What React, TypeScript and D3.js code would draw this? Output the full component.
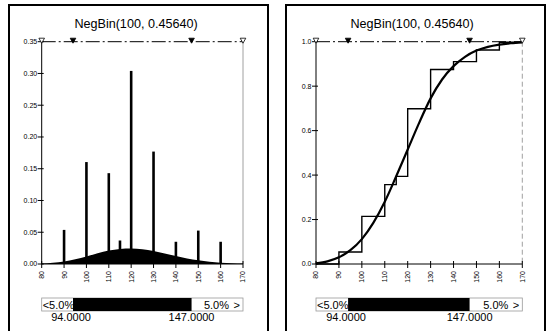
import React from "react";
import * as d3 from "d3";

const TITLE = "NegBin(100, 0.45640)";
const xTicks = [80, 90, 100, 110, 120, 130, 140, 150, 160, 170];
const pdfYTicks = [0, 0.05, 0.1, 0.15, 0.2, 0.25, 0.3, 0.35];
const cdfYTicks = [0, 0.2, 0.4, 0.6, 0.8, 1.0];

// Discrete input spikes (value, probability)
const spikeX = [90, 100, 110, 115, 120, 130, 140, 150, 160];
const spikeP = [0.0537, 0.1605, 0.143, 0.037, 0.304, 0.177, 0.035, 0.0526, 0.035];

// Fitted NegBin pmf
const pmfX = [80, 85, 90, 95, 100, 105, 110, 115, 120, 125, 130, 135, 140, 145, 150, 155, 160, 165, 170];
const pmfY = [0.0008, 0.0018, 0.004, 0.0075, 0.012, 0.017, 0.0212, 0.0238, 0.0245, 0.0232, 0.0203, 0.0165, 0.0125, 0.0088, 0.0058, 0.0036, 0.0021, 0.0012, 0.0006];

// Fitted NegBin cdf
const cdfX = [80, 85, 90, 95, 100, 105, 110, 115, 120, 125, 130, 135, 140, 145, 150, 155, 160, 165, 170];
const cdfY = [0.003, 0.012, 0.03, 0.062, 0.112, 0.185, 0.28, 0.395, 0.515, 0.635, 0.745, 0.83, 0.89, 0.932, 0.96, 0.977, 0.987, 0.993, 0.997];

const leftPct = "5.0%";
const rightPct = "5.0%";
const lowVal = 94;
const highVal = 147;
const lowLabel = "94.0000";
const highLabel = "147.0000";

const FONT = "'Liberation Sans', Arial, sans-serif";
const TOP = 41.7;
const BOTTOM = 264;

type PanelProps = { kind: "pdf" | "cdf"; fx0: number; fx1: number; px0: number; px1: number; titleX: number };

function Panel({ kind, fx0, fx1, px0, px1, titleX }: PanelProps) {
  const x = d3.scaleLinear().domain([80, 170]).range([px0, px1]);
  const y = d3.scaleLinear().domain(kind === "pdf" ? [0, 0.35] : [0, 1]).range([BOTTOM, TOP]);
  const yTicks = kind === "pdf" ? pdfYTicks : cdfYTicks;
  const yFmt = kind === "pdf" ? d3.format(".2f") : d3.format(".1f");

  const tri = (cx: number, filled: boolean, key: string) => (
    <path key={key} d={`M${cx - 2.8},${TOP - 3.5}L${cx + 2.8},${TOP - 3.5}L${cx},${TOP + 1.5}Z`}
      fill={filled ? "#000" : "#fff"} stroke="#000" strokeWidth={0.8} />
  );

  let marks: React.ReactNode = null;
  if (kind === "pdf") {
    const area = d3.area<number>().x((_, i) => x(pmfX[i])).y0(BOTTOM).y1((d) => y(d)).curve(d3.curveMonotoneX);
    marks = (
      <g>
        <path d={area(pmfY) || ""} fill="#000" />
        {spikeX.map((v, i) => (
          <line key={i} x1={x(v)} x2={x(v)} y1={BOTTOM} y2={y(spikeP[i])} stroke="#000" strokeWidth={2.6} />
        ))}
      </g>
    );
  } else {
    const cum: [number, number][] = [[80, 0]];
    let s = 0;
    spikeX.forEach((v, i) => { s += spikeP[i]; cum.push([v, s]); });
    cum.push([170, s]);
    const step = d3.line<[number, number]>().x((d) => x(d[0])).y((d) => y(d[1])).curve(d3.curveStepAfter);
    const smooth = d3.line<number>().x((_, i) => x(cdfX[i])).y((d) => y(d)).curve(d3.curveMonotoneX);
    marks = (
      <g>
        <path d={step(cum) || ""} fill="none" stroke="#000" strokeWidth={1.4} />
        <path d={smooth(cdfY) || ""} fill="none" stroke="#000" strokeWidth={2.2} />
      </g>
    );
  }

  const boxY = 298;
  const boxH = 13;
  return (
    <g fontFamily={FONT}>
      {/* frame */}
      <path d={`M${fx0},340V5H${fx1}V340`} fill="none" stroke="#000" strokeWidth={2} />
      <text x={titleX} y={27.5} fontSize={12.6} textAnchor="middle">{TITLE}</text>
      {/* top dash-dot line and right guide */}
      <line x1={px0} x2={px1} y1={TOP} y2={TOP} stroke="#000" strokeWidth={1} strokeDasharray="14,3,2,3" />
      <line x1={px1} x2={px1} y1={TOP} y2={BOTTOM} stroke="#888" strokeWidth={0.8} strokeDasharray={kind === "cdf" ? "5,3" : "none"} />
      {marks}
      {/* y axis */}
      <line x1={px0} x2={px0} y1={TOP} y2={BOTTOM} stroke="#000" strokeWidth={1} />
      {yTicks.map((t) => (
        <g key={t}>
          <line x1={px0 - 4} x2={px0 + 2} y1={y(t)} y2={y(t)} stroke="#000" strokeWidth={1} />
          <text x={px0 - 4.5} y={y(t)} dy="0.35em" fontSize={7} textAnchor="end">{yFmt(t)}</text>
        </g>
      ))}
      {/* x axis */}
      <line x1={px0} x2={px1} y1={BOTTOM} y2={BOTTOM} stroke="#000" strokeWidth={1} />
      {xTicks.map((t) => (
        <g key={t}>
          <line x1={x(t)} x2={x(t)} y1={BOTTOM - 3} y2={BOTTOM + 4} stroke="#000" strokeWidth={1} />
          <text transform={`translate(${x(t)},${BOTTOM + 7}) rotate(-90)`} dy="0.35em" fontSize={7} textAnchor="end">{t}</text>
        </g>
      ))}
      {tri(x(80), false, "a")}
      {tri(x(170), false, "b")}
      {tri(x(lowVal), true, "c")}
      {tri(x(highVal), true, "d")}
      {/* slider */}
      <rect x={px0} y={boxY} width={px1 - px0} height={boxH} fill="#fff" stroke="#999" strokeWidth={0.8} />
      <rect x={x(lowVal)} y={boxY} width={x(highVal) - x(lowVal)} height={boxH} fill="#000" />
      <text x={px0 + 1} y={boxY + boxH - 2.5} fontSize={11}>{"<" + leftPct}</text>
      <text x={px1 - 14} y={boxY + boxH - 2.5} fontSize={11} textAnchor="end">{rightPct}</text>
      <text x={px1 - 3} y={boxY + boxH - 2.5} fontSize={11} textAnchor="end">{">"}</text>
      <text x={x(lowVal) - 2} y={boxY + boxH + 10} fontSize={11} textAnchor="middle">{lowLabel}</text>
      <text x={x(highVal)} y={boxY + boxH + 10} fontSize={11} textAnchor="middle">{highLabel}</text>
    </g>
  );
}

export default function App() {
  return (
    <svg width={551} height={331} style={{ position: "absolute", left: 0, top: 0, background: "#fff" }}>
      <rect width={551} height={331} fill="#fff" />
      <Panel kind="pdf" fx0={9} fx1={268} px0={41.7} px1={243} titleX={136} />
      <Panel kind="cdf" fx0={286} fx1={545} px0={316} px1={522.3} titleX={412} />
    </svg>
  );
}
